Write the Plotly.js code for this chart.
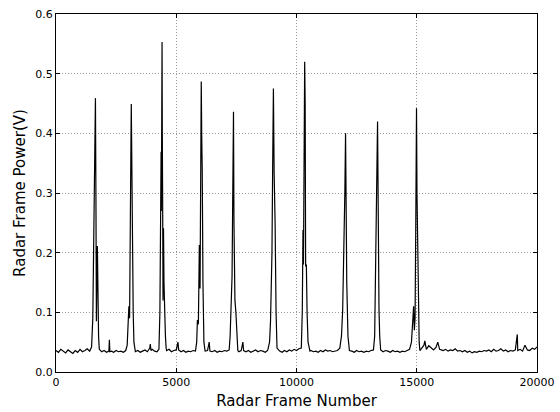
<!DOCTYPE html>
<html>
<head>
<meta charset="utf-8">
<script src="https://cdn.plot.ly/plotly-3.0.1.min.js"></script>
<style>html,body{margin:0;padding:0;background:#fff;}#chart{width:560px;height:412px;}</style>
</head>
<body>
<div id="chart"></div>
<script>
const frameNumber = [
0,100,200,300,400,500,600,700,800,900,1000,1100,1200,1300,1400,1480,
1530,1580,1620,1640,1660,1680,1700,1720,1740,1770,1800,
1900,2000,2100,2200,2220,2240,2300,2400,2500,2600,2700,2800,2900,
2960,3000,3030,3060,3080,3100,3130,3150,3170,3190,3210,3240,3270,
3300,3400,3500,3600,3700,3800,3900,3920,3950,4000,4100,4200,4280,
4320,4350,4370,4380,4400,4410,4420,4440,4450,4470,4490,4520,4550,4580,
4600,4700,4800,4900,5000,5070,5100,5200,5300,5400,5500,5600,5700,5800,
5850,5880,5920,5960,5990,6020,6040,6060,6080,6110,6150,6200,
6300,6370,6400,6500,6600,6700,6800,6900,7000,7100,7200,
7240,7280,7320,7350,7380,7400,7420,7440,7480,7520,7560,
7600,7700,7770,7800,7900,8000,8100,8200,8300,8400,8500,8600,8700,8800,
8880,8920,8980,9010,9040,9070,9110,9150,9190,
9300,9400,9500,9600,9700,9800,9900,10000,10100,10200,
10240,10270,10290,10320,10340,10360,10380,10410,10440,10480,10560,
10600,10700,10800,10900,11000,11100,11200,11300,11400,11500,11600,11700,11800,
11870,11920,11970,12010,12040,12060,12090,12140,12200,
12300,12400,12500,12600,12700,12800,12900,13000,13100,13200,
13250,13290,13330,13370,13390,13410,13430,13460,13500,
13600,13700,13800,13900,14000,14100,14200,14300,14400,14500,14600,14700,
14780,14830,14870,14900,14930,14960,14990,15010,15040,15070,15100,15130,
15200,15300,15335,15400,15500,15600,15700,15800,15875,15950,16000,16100,16200,16300,16400,16500,16600,16700,16800,16900,
17000,17100,17200,17300,17400,17500,17600,17700,17800,17900,18000,18100,18200,18300,18400,18500,18600,18700,18800,18900,
19000,19100,19180,19200,19300,19400,19500,19600,19700,19800,19900,20000
];
const framePower = [
0.036,0.033,0.038,0.035,0.032,0.037,0.034,0.031,0.036,0.033,0.038,0.034,0.036,0.039,0.035,0.042,
0.09,0.28,0.44,0.459,0.30,0.085,0.16,0.211,0.12,0.06,0.038,
0.034,0.036,0.033,0.035,0.054,0.034,0.035,0.033,0.036,0.034,0.035,0.033,0.036,
0.045,0.09,0.11,0.09,0.15,0.30,0.449,0.36,0.15,0.179,0.10,0.05,0.035,
0.034,0.036,0.033,0.035,0.037,0.034,0.040,0.047,0.036,0.038,0.035,0.034,0.038,
0.10,0.30,0.369,0.27,0.45,0.553,0.40,0.24,0.12,0.241,0.15,0.08,0.06,0.04,
0.036,0.038,0.034,0.036,0.037,0.05,0.037,0.034,0.036,0.033,0.035,0.034,0.036,0.035,
0.05,0.087,0.08,0.213,0.14,0.35,0.487,0.394,0.34,0.15,0.05,0.035,
0.036,0.05,0.035,0.034,0.036,0.033,0.035,0.034,0.036,0.035,0.037,
0.06,0.10,0.16,0.30,0.436,0.25,0.126,0.12,0.10,0.05,0.036,
0.034,0.036,0.05,0.036,0.034,0.036,0.033,0.035,0.037,0.034,0.036,0.035,0.033,0.036,
0.05,0.085,0.20,0.35,0.475,0.333,0.25,0.10,0.04,
0.035,0.033,0.036,0.034,0.037,0.035,0.038,0.036,0.039,0.04,
0.10,0.238,0.18,0.40,0.52,0.45,0.177,0.18,0.10,0.05,0.035,
0.036,0.034,0.035,0.033,0.036,0.034,0.037,0.035,0.036,0.034,0.035,0.036,0.04,
0.06,0.104,0.196,0.30,0.40,0.25,0.15,0.06,0.036,
0.035,0.033,0.036,0.034,0.035,0.033,0.035,0.034,0.036,0.037,
0.06,0.15,0.30,0.42,0.25,0.132,0.105,0.06,0.037,
0.034,0.036,0.035,0.033,0.036,0.034,0.035,0.033,0.035,0.034,0.036,0.038,
0.05,0.08,0.11,0.07,0.09,0.25,0.442,0.30,0.182,0.10,0.05,0.036,
0.040,0.045,0.052,0.038,0.044,0.040,0.037,0.041,0.05,0.038,0.037,0.036,0.038,0.035,0.037,0.036,0.039,0.035,0.036,0.034,
0.036,0.033,0.035,0.032,0.034,0.033,0.035,0.034,0.036,0.035,0.037,0.034,0.038,0.035,0.036,0.039,0.035,0.037,0.034,0.036,
0.035,0.037,0.063,0.036,0.038,0.035,0.045,0.037,0.036,0.040,0.038,0.042
];
const xTicks = [0,5000,10000,15000,20000];
const xTickText = ['0','5000','10000','15000','20000'];
const yTicks = [0,0.1,0.2,0.3,0.4,0.5,0.6];
const yTickText = ['0.0','0.1','0.2','0.3','0.4','0.5','0.6'];

const trace = {
  x: frameNumber, y: framePower, type: 'scatter', mode: 'lines',
  line: {color: '#000', width: 1.2}, hoverinfo: 'skip'
};
const axisCommon = {
  showline: true, mirror: 'ticks', linecolor: '#000', linewidth: 1,
  ticks: 'inside', ticklen: 4, tickcolor: '#000', tickwidth: 1,
  showgrid: true, gridcolor: '#999', griddash: '1px,2px', gridwidth: 1,
  zeroline: false, tickfont: {family: 'DejaVu Sans', size: 11, color: '#000'}
};
const layout = {
  width: 560, height: 412,
  margin: {l: 55.5, r: 22.5, t: 14, b: 40, pad: 0},
  paper_bgcolor: '#fff', plot_bgcolor: '#fff', showlegend: false,
  xaxis: Object.assign({}, axisCommon, {
    range: [0, 20000], tickvals: xTicks, ticktext: xTickText,
    title: {text: 'Radar Frame Number', font: {family: 'DejaVu Sans', size: 15, color: '#000'}, standoff: 7}
  }),
  yaxis: Object.assign({}, axisCommon, {
    range: [0, 0.6], tickvals: yTicks, ticktext: yTickText,
    title: {text: 'Radar Frame Power(V)', font: {family: 'DejaVu Sans', size: 15, color: '#000'}, standoff: 6}
  })
};
Plotly.newPlot('chart', [trace], layout, {displayModeBar: false, staticPlot: true});
</script>
</body>
</html>
